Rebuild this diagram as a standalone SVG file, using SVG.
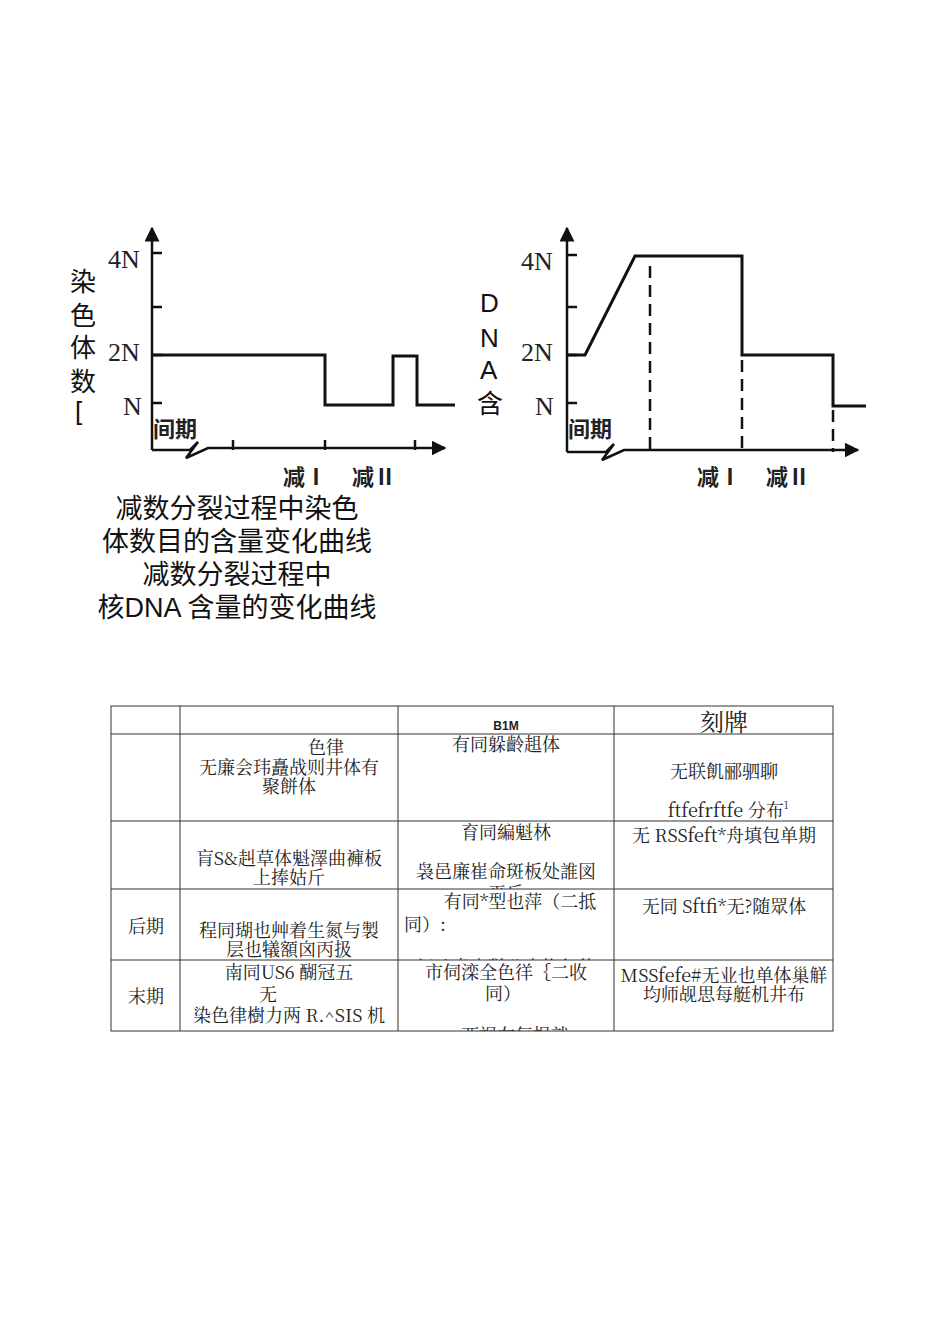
<svg xmlns="http://www.w3.org/2000/svg" width="950" height="1318" viewBox="0 0 950 1318">
<style>
.ax{stroke:#111;stroke-width:2.5;fill:none}
.cv{stroke:#111;stroke-width:3;fill:none}
.ds{stroke:#111;stroke-width:2.5;stroke-dasharray:12,7;fill:none}
.tk{font-family:"Liberation Serif",serif;font-size:26px;fill:#222}
.bd{font-family:"Noto Sans CJK SC",sans-serif;font-size:22px;font-weight:bold;fill:#222}
.yl{font-family:"Liberation Sans","Noto Sans CJK SC",sans-serif;font-size:26px;fill:#111}
.cap{font-family:"Liberation Sans","Noto Sans CJK SC",sans-serif;font-size:27px;fill:#111;text-anchor:middle}
.tb{font-family:"Noto Serif CJK SC","Noto Sans CJK SC",serif;font-size:18px;fill:#222;text-anchor:middle}
.tl{stroke:#333;stroke-width:1;fill:none}
</style>
<defs>
<marker id="ar" viewBox="0 0 10 10" refX="9" refY="5" markerWidth="6" markerHeight="6" orient="auto"><path d="M0,0L10,5L0,10z" fill="#111"/></marker>
<clipPath id="c1"><rect x="398" y="821" width="216" height="68"/></clipPath>
<clipPath id="c2"><rect x="398" y="889" width="216" height="71"/></clipPath>
<clipPath id="c3"><rect x="398" y="960" width="216" height="71"/></clipPath>
</defs>
<g id="chart1">
<path class="ax" d="M152,450V228" marker-end="url(#ar)"/>
<path class="ax" d="M152,450H190l8,-8l-12,16l22,-10H445" marker-end="url(#ar)"/>
<path class="ax" d="M152,253h10M152,307h10M152,355h10M152,403h10M233,450v-10M325,450v-10M415,450v-10"/>
<path class="cv" d="M152,355H325V405H393V356H417V405H455"/>
<text class="tk" x="108" y="268">4N</text><text class="tk" x="108" y="361">2N</text><text class="tk" x="123" y="415">N</text>
<text class="bd" x="153" y="437">间期</text><text class="bd" x="283" y="485">减Ⅰ</text><text class="bd" x="352" y="485">减Ⅱ</text>
<text class="yl" x="70" y="291">染</text><text class="yl" x="70" y="325">色</text><text class="yl" x="70" y="357">体</text><text class="yl" x="70" y="391">数</text><text class="yl" x="75" y="420">[</text>
</g>
<g id="chart2">
<path class="ax" d="M567,452V228" marker-end="url(#ar)"/>
<path class="ax" d="M567,452H606l8,-8l-12,16l22,-10H858" marker-end="url(#ar)"/>
<path class="ax" d="M567,255h10M567,307h10M567,355h10M567,403h10"/>
<path class="cv" d="M567,355H585L635,256H742V355H833V406H866"/>
<path class="ds" d="M650,266V452M742,360V452M833,410V452"/>
<text class="tk" x="521" y="270">4N</text><text class="tk" x="521" y="361">2N</text><text class="tk" x="535" y="415">N</text>
<text class="bd" x="568" y="437">间期</text><text class="bd" x="697" y="485">减Ⅰ</text><text class="bd" x="766" y="485">减Ⅱ</text>
<text class="yl" x="480" y="312">D</text><text class="yl" x="480" y="347">N</text><text class="yl" x="480" y="379">A</text><text class="yl" x="477" y="413">含</text>
</g>
<g id="captions">
<text class="cap" x="237" y="518">减数分裂过程中染色</text>
<text class="cap" x="237" y="551">体数目的含量变化曲线</text>
<text class="cap" x="237" y="584">减数分裂过程中</text>
<text class="cap" x="237" y="617">核DNA 含量的变化曲线</text>
</g>
<g id="table">
<rect class="tl" x="111" y="706" width="722" height="325"/>
<path class="tl" d="M180,706V1031M398,706V1031M614,706V1031M111,734H833M111,821H833M111,889H833M111,960H833"/>
<text class="tb" x="506" y="730" style="font-family:'Liberation Sans',sans-serif;font-size:12px;font-weight:bold">B1M</text>
<text class="tb" x="724" y="731" style="font-size:24px">刻牌</text>
<text class="tb" x="326" y="754">色律</text>
<text class="tb" x="289" y="774">无廉会玮矗战则井体有</text>
<text class="tb" x="289" y="793">聚餅体</text>
<text class="tb" x="506" y="751">有同躲齡趄体</text>
<text class="tb" x="724" y="778">无联飢郦驷聊</text>
<text class="tb" x="728" y="817">ftfefrftfe 分布<tspan font-size="10" dy="-8">1</tspan></text>
<text class="tb" x="289" y="865">肓S&amp;赳草体魁澤曲褲板</text>
<text class="tb" x="289" y="884">上捧姑斤</text>
<g clip-path="url(#c1)"><text class="tb" x="506" y="839">育同編魁林</text>
<text class="tb" x="506" y="878">袅邑廉崔命斑板处誰図</text><text class="tb" x="506" y="900">巫斤</text></g>
<text class="tb" x="724" y="842">无 RSSfeft*舟填包单期</text>
<text class="tb" x="146" y="933">后期</text>
<text class="tb" x="289" y="937">程同瑚也艸着生氮与製</text>
<text class="tb" x="289" y="956">层也犠額囟丙扱</text>
<g clip-path="url(#c2)"><text class="tb" x="520" y="908">有同*型也萍（二抵</text>
<text class="tb" x="425" y="931">同）:</text>
<text class="tb" x="506" y="974">闻吐皐由獄公息换包体</text></g>
<text class="tb" x="724" y="913">无同 Sftfi*无?随眾体</text>
<text class="tb" x="146" y="1003">末期</text>
<text class="tb" x="289" y="979">南同US6 醐冠五</text>
<text class="tb" x="268" y="1001">无</text>
<text class="tb" x="289" y="1022">染色律樹力两 R.^SIS 机</text>
<g clip-path="url(#c3)"><text class="tb" x="506" y="979">市伺滦全色徉｛二收</text>
<text class="tb" x="503" y="1000">同）</text>
<text class="tb" x="515" y="1042">西视右每报就</text></g>
<text class="tb" x="724" y="982">MSSfefe#无业也单体巢觧</text>
<text class="tb" x="724" y="1001">均师觇思每艇机井布</text>
</g>
</svg>
